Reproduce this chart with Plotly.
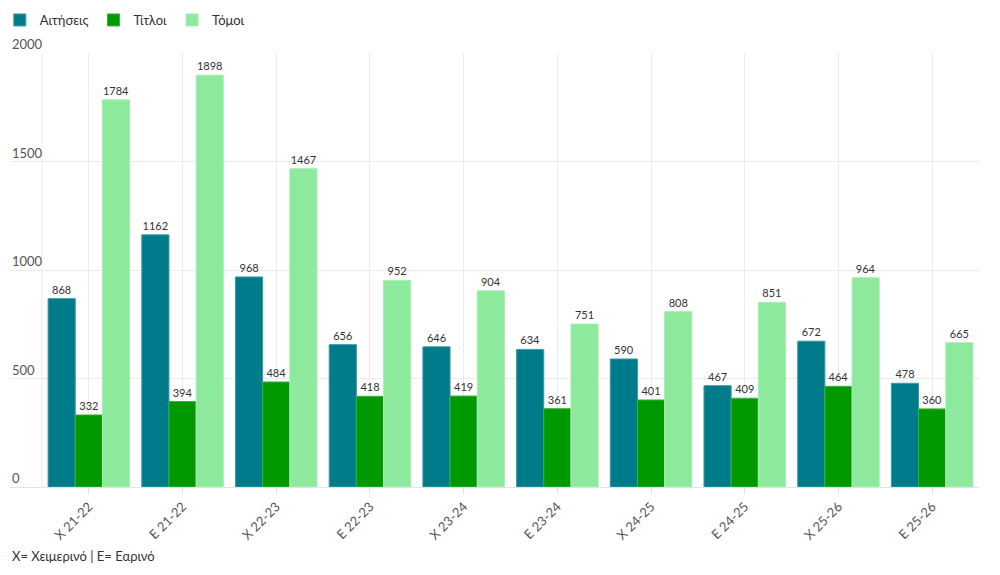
import plotly.graph_objects as go

# Data
categories = ['X 21-22', 'E 21-22', 'X 22-23', 'E 22-23', 'X 23-24',
              'E 23-24', 'X 24-25', 'E 24-25', 'X 25-26', 'E 25-26']
aitiseis = [868, 1162, 968, 656, 646, 634, 590, 467, 672, 478]
titloi = [332, 394, 484, 418, 419, 361, 401, 409, 464, 360]
tomoi = [1784, 1898, 1467, 952, 904, 751, 808, 851, 964, 665]

y_ticks = [0, 500, 1000, 1500, 2000]

font_family = 'Lato, Noto Sans, sans-serif'

series = [
    ('Αιτήσεις', aitiseis, '#007B8A', '#3C9AA6'),
    ('Τίτλοι', titloi, '#009A00', '#3DB03D'),
    ('Τόμοι', tomoi, '#8DE99B', '#A9EFB3'),
]

fig = go.Figure()

for name, values, color, edge in series:
    fig.add_trace(go.Bar(
        x=categories,
        y=values,
        name=name,
        marker=dict(color=color, line=dict(color=edge, width=1)),
        text=values,
        textposition='outside',
        textfont=dict(size=11, color='#333333', family=font_family),
        cliponaxis=False,
        hoverinfo='x+y+name',
    ))

# light line at the left edge of the category area
fig.add_shape(type='line', xref='x', yref='y', x0=-0.5, x1=-0.5, y0=0, y1=2000,
              line=dict(color='#ebebeb', width=1), layer='below')

# y tick labels sit above their gridlines, left aligned
annotations = [dict(
    text=str(v), xref='paper', yref='y', x=0, y=v,
    xanchor='left', yanchor='bottom', yshift=-1,
    showarrow=False, font=dict(size=13, color='#555555'),
) for v in y_ticks]

annotations.append(dict(
    text='X= Χειμερινό | E= Εαρινό',
    xref='paper', yref='paper',
    x=0, y=-0.159,
    xanchor='left', yanchor='middle',
    showarrow=False,
    font=dict(size=13, color='#333333'),
))

# the page body adds an 8px offset, so margins are shifted to compensate
fig.update_layout(
    width=1000,
    height=575,
    margin=dict(l=2, r=29, t=45, b=96, autoexpand=False),
    plot_bgcolor='white',
    paper_bgcolor='white',
    font=dict(family=font_family, color='#333333'),
    barmode='group',
    bargap=0.13,
    bargroupgap=0,
    legend=dict(
        orientation='h',
        x=-0.0105, xanchor='left',
        y=1.076, yanchor='middle',
        font=dict(size=13, color='#333333'),
        itemwidth=30,
        traceorder='normal',
    ),
    xaxis=dict(
        type='category',
        range=[-0.8415, 9.5],
        automargin=False,
        showgrid=True,
        gridcolor='#ebebeb',
        gridwidth=1,
        ticks='outside',
        ticklen=6,
        tickcolor='#e0e0e0',
        tickangle=-45,
        tickfont=dict(size=13, color='#555555'),
        showline=False,
        zeroline=False,
    ),
    yaxis=dict(
        range=[0, 2000],
        automargin=False,
        tickvals=y_ticks,
        showticklabels=False,
        showgrid=True,
        gridcolor='#ebebeb',
        gridwidth=1,
        zeroline=True,
        zerolinecolor='#e3e3e3',
        zerolinewidth=1,
        ticks='',
        showline=False,
    ),
    annotations=annotations,
)

fig.write_html('out.html')
